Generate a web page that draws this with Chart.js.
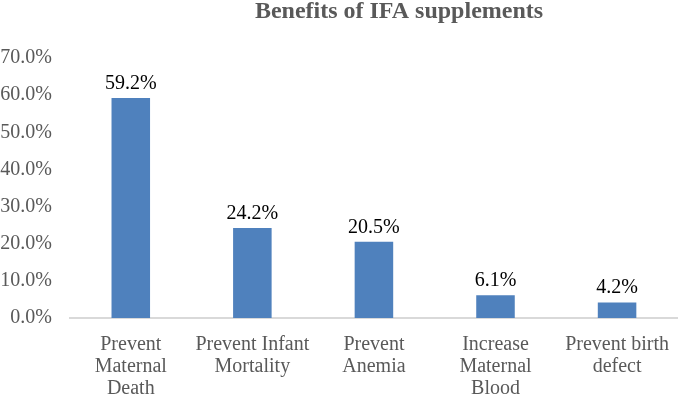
<!DOCTYPE html>
<html>
  <head>
    <meta charset="utf-8" />
    <title>Benefits of IFA supplements</title>
    <script src="https://cdn.jsdelivr.net/npm/chart.js"></script>
    <style>
      body { margin: 0; background: #fff; }
    </style>
  </head>
  <body>
    <canvas id="myChart" width="685" height="396"></canvas>
    <script>
      const chartTitle = 'Benefits of IFA supplements';
      const categories = [
        ['Prevent', 'Maternal', 'Death'],
        ['Prevent Infant', 'Mortality'],
        ['Prevent', 'Anemia'],
        ['Increase', 'Maternal', 'Blood'],
        ['Prevent birth', 'defect']
      ];
      const percents = [59.2, 24.2, 20.5, 6.1, 4.2];
      const yTicks = [0, 10, 20, 30, 40, 50, 60, 70];

      const serif = "'Liberation Serif', 'Times New Roman', serif";

      // title sits a bit right of centre in the original, so draw it by hand
      const titlePlugin = {
        id: 'titleText',
        afterDraw(chart) {
          const ctx = chart.ctx;
          ctx.save();
          ctx.font = 'bold 24px ' + serif;
          ctx.fillStyle = '#595959';
          ctx.textAlign = 'center';
          ctx.textBaseline = 'alphabetic';
          ctx.fillText(chartTitle, 399, 18);
          ctx.restore();
        }
      };

      const valueLabels = {
        id: 'valueLabels',
        afterDatasetsDraw(chart) {
          const ctx = chart.ctx;
          const meta = chart.getDatasetMeta(0);
          ctx.save();
          ctx.font = '20px ' + serif;
          ctx.fillStyle = '#000';
          ctx.textAlign = 'center';
          ctx.textBaseline = 'alphabetic';
          meta.data.forEach((bar, i) => {
            ctx.fillText(percents[i].toFixed(1) + '%', bar.x, bar.y - 9);
          });
          ctx.restore();
        }
      };

      new Chart(document.getElementById('myChart'), {
        type: 'bar',
        data: {
          labels: categories,
          datasets: [{
            data: percents,
            backgroundColor: '#4f81bd',
            borderWidth: 0,
            barPercentage: 0.317,
            categoryPercentage: 1
          }]
        },
        options: {
          responsive: false,
          animation: false,
          layout: { padding: { top: 58, right: 0, bottom: 0, left: 0 } },
          plugins: {
            legend: { display: false },
            title: { display: false },
            tooltip: { enabled: false }
          },
          scales: {
            x: {
              afterFit(axis) { axis.height = 78; },
              grid: { display: false, drawTicks: false },
              border: { display: true, color: '#d9d9d9', width: 2 },
              ticks: {
                color: '#595959',
                font: { family: serif, size: 20, lineHeight: 1.1 },
                padding: 16,
                maxRotation: 0,
                autoSkip: false
              }
            },
            y: {
              min: 0,
              max: 70,
              afterBuildTicks(axis) {
                axis.ticks = yTicks.map(v => ({ value: v }));
              },
              afterFit(axis) { axis.width = 70; },
              grid: { display: false, drawTicks: false },
              border: { display: false },
              ticks: {
                color: '#595959',
                font: { family: serif, size: 20 },
                padding: 18,
                callback: v => v.toFixed(1) + '%'
              }
            }
          }
        },
        plugins: [titlePlugin, valueLabels]
      });
    </script>
  </body>
</html>
